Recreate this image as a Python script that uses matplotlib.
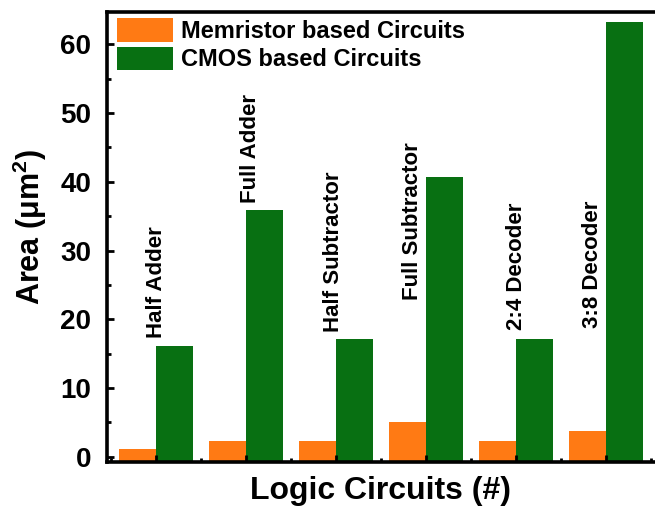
import matplotlib
matplotlib.use('Agg')
import matplotlib.pyplot as plt
import numpy as np

plt.rcParams['font.family'] = ['Liberation Sans', 'DejaVu Sans']
plt.rcParams['font.weight'] = 'bold'
plt.rcParams['mathtext.fontset'] = 'custom'
plt.rcParams['mathtext.rm'] = 'Liberation Sans:bold'
plt.rcParams['mathtext.bf'] = 'Liberation Sans:bold'

circuits = ['Half Adder', 'Full Adder', 'Half Subtractor', 'Full Subtractor',
            '2:4 Decoder', '3:8 Decoder']
memristor_area = [1.2, 2.3, 2.3, 5.0, 2.3, 3.7]
cmos_area = [16.1, 35.9, 17.2, 40.7, 17.2, 63.3]

# where each circuit name sits (x, bottom of the rotated text)
label_pos = [(1.01, 17.3), (2.05, 36.9), (2.98, 18.2), (3.85, 22.8),
             (5.01, 18.5), (5.85, 18.75)]

orange = '#ff7a14'
green = '#087012'
ymin = -0.75

fig = plt.figure(figsize=(6.55, 5.07), dpi=100)
ax = fig.add_axes([106.7 / 655, 45 / 507, 1 - 106.7 / 655, (462 - 12) / 507])

x = np.arange(1, len(circuits) + 1)
w = 0.41
ax.bar(x - w / 2, np.array(memristor_area) - ymin, w, bottom=ymin, color=orange,
       label='Memristor based Circuits')
ax.bar(x + w / 2, np.array(cmos_area) - ymin, w, bottom=ymin, color=green,
       label='CMOS based Circuits')

for name, (lx, ly) in zip(circuits, label_pos):
    ax.text(lx, ly, name, rotation=90, ha='center', va='bottom', fontsize=16,
            fontweight='bold')

ax.set_xlim(0.456, 6.548)
ax.set_ylim(ymin, 64.7)
ax.set_xticks(x)
ax.set_xticks(np.arange(0.5, 7, 1), minor=True)
ax.set_yticks(np.arange(0, 61, 10))
ax.set_yticks(np.arange(0, 65, 5), minor=True)
ax.tick_params(axis='both', which='both', direction='in', width=2)
ax.tick_params(axis='both', which='major', length=5)
ax.tick_params(axis='both', which='minor', length=3)
ax.tick_params(axis='x', labelbottom=False)
ax.tick_params(axis='y', labelsize=20, pad=11)
for lab in ax.get_yticklabels():
    lab.set_fontweight('bold')

for side in ['left', 'bottom', 'top']:
    ax.spines[side].set_linewidth(2.6)
ax.spines['right'].set_visible(False)

ax.set_ylabel(r'Area (μm$^2$)', fontsize=22, fontweight='bold', labelpad=8)
ax.yaxis.label.set_y(0.522)
ax.set_xlabel('Logic Circuits (#)', fontsize=23, fontweight='bold', labelpad=7)

ax.legend(loc='upper left', bbox_to_anchor=(116.7 / 655, 1 - 18.3 / 507),
          bbox_transform=fig.transFigure, frameon=False, borderpad=0,
          borderaxespad=0, handlelength=2.4, handleheight=1.18,
          labelspacing=0.14, handletextpad=0.31, prop={'weight': 'bold', 'size': 17})

fig.savefig('out.png', dpi=100)
